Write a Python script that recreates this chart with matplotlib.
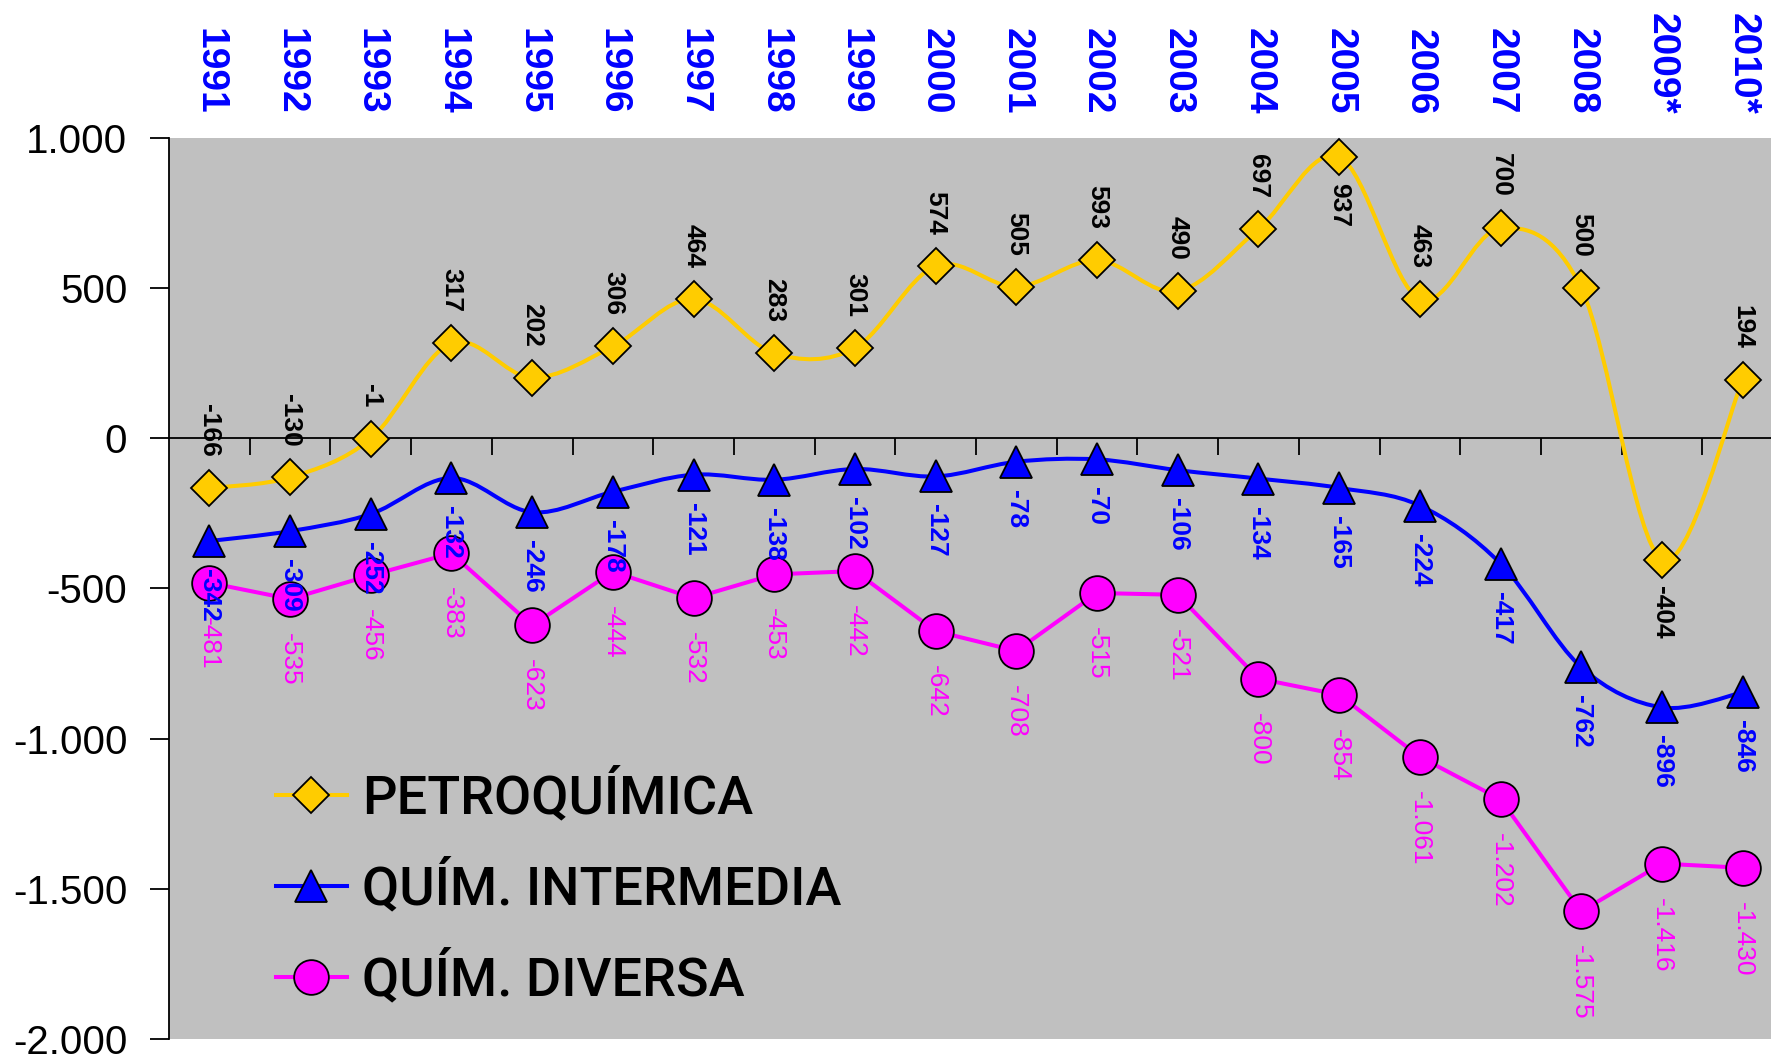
import matplotlib
matplotlib.use("Agg")
import matplotlib.pyplot as plt
from matplotlib.path import Path
from matplotlib.patches import PathPatch
from matplotlib.lines import Line2D
from matplotlib import font_manager as fm
import numpy as np
import os

years = ["1991", "1992", "1993", "1994", "1995", "1996", "1997", "1998", "1999", "2000",
         "2001", "2002", "2003", "2004", "2005", "2006", "2007", "2008", "2009*", "2010*"]
petroquimica = [-166, -130, -1, 317, 202, 306, 464, 283, 301, 574,
                505, 593, 490, 697, 937, 463, 700, 500, -404, 194]
quim_intermedia = [-342, -309, -252, -132, -246, -178, -121, -138, -102, -127,
                   -78, -70, -106, -134, -165, -224, -417, -762, -896, -846]
quim_diversa = [-481, -535, -456, -383, -623, -444, -532, -453, -442, -642,
                -708, -515, -521, -800, -854, -1061, -1202, -1575, -1416, -1430]
series_names = ["PETROQUÍMICA", "QUÍM. INTERMEDIA", "QUÍM. DIVERSA"]
yticks = [1000, 500, 0, -500, -1000, -1500, -2000]

GOLD = "#FFCC00"
BLUE = "#0000FF"
MAG = "#FF00FF"
GRAY = "#C0C0C0"

plt.rcParams['font.family'] = ['Liberation Sans', 'DejaVu Sans']

_files = fm.findSystemFonts()


def _find(name):
    for f in _files:
        if os.path.basename(f).lower() == name.lower():
            return f
    return None


_bold = _find("LiberationSans-Bold.ttf")
_reg = _find("LiberationSans-Regular.ttf")


def fp_bold(size):
    if _bold:
        return fm.FontProperties(fname=_bold, size=size)
    return fm.FontProperties(family='Liberation Sans', weight='bold', size=size)


def fp_reg(size):
    if _reg:
        return fm.FontProperties(fname=_reg, size=size)
    return fm.FontProperties(family='Liberation Sans', size=size)


leg_prop = fm.FontProperties(family=['Roboto', 'DejaVu Sans'], weight='medium', size=39)

W, H = 1771, 1055
fig = plt.figure(figsize=(W / 100, H / 100), dpi=100)
ax = fig.add_axes([169 / W, 16 / H, (1783 - 169) / W, (1039 - 138) / H])
ax.set_facecolor(GRAY)

x = np.arange(len(years))


def fmt(v):
    return f"{v:,}".replace(",", ".")


def smooth_path(xs, ys):
    pts = np.column_stack([xs, ys]).astype(float)
    n = len(pts)
    verts = [tuple(pts[0])]
    codes = [Path.MOVETO]
    for i in range(n - 1):
        p0 = pts[i - 1] if i > 0 else pts[i]
        p1 = pts[i]
        p2 = pts[i + 1]
        p3 = pts[i + 2] if i + 2 < n else pts[i + 1]
        c1 = p1 + (p2 - p0) / 6.0
        c2 = p2 - (p3 - p1) / 6.0
        verts += [tuple(c1), tuple(c2), tuple(p2)]
        codes += [Path.CURVE4, Path.CURVE4, Path.CURVE4]
    return Path(verts, codes)


LW = 2.9
MS_D, MS_T, MS_O = 18, 23, 25
for ys, col in [(petroquimica, GOLD), (quim_intermedia, BLUE)]:
    patch = PathPatch(smooth_path(x, ys), facecolor='none', edgecolor=col, lw=LW,
                      zorder=3, capstyle='round', joinstyle='round')
    ax.add_patch(patch)
ax.plot(x, quim_diversa, color=MAG, lw=LW, zorder=3)

ax.plot(x, petroquimica, linestyle='none', marker='D', ms=MS_D, mfc=GOLD, mec='black',
        mew=1.3, zorder=5, clip_on=False)
ax.plot(x, quim_intermedia, linestyle='none', marker='^', ms=MS_T, mfc=BLUE, mec='black',
        mew=1.3, zorder=5, clip_on=False)
ax.plot(x, quim_diversa, linestyle='none', marker='o', ms=MS_O, mfc=MAG, mec='black',
        mew=1.3, zorder=5, clip_on=False)

# data labels
for i, v in enumerate(petroquimica):
    below = (v == max(petroquimica)) or (v == min(petroquimica))
    if below:
        ax.annotate(fmt(v), (x[i], v), xytext=(0, -26), textcoords='offset pixels',
                    rotation=-90, ha='center', va='top', fontproperties=fp_bold(19),
                    color='black', zorder=8)
    else:
        ax.annotate(fmt(v), (x[i], v), xytext=(0, 31), textcoords='offset pixels',
                    rotation=-90, ha='center', va='bottom', fontproperties=fp_bold(19),
                    color='black', zorder=8)
for i, v in enumerate(quim_intermedia):
    ax.annotate(fmt(v), (x[i], v), xytext=(0, -28), textcoords='offset pixels',
                rotation=-90, ha='center', va='top', fontproperties=fp_bold(19),
                color=BLUE, zorder=8)
for i, v in enumerate(quim_diversa):
    ax.annotate(fmt(v), (x[i], v), xytext=(0, -34), textcoords='offset pixels',
                rotation=-90, ha='center', va='top', fontproperties=fp_reg(19),
                color=MAG, zorder=8)

# axes
ax.set_xlim(-0.5, len(years) - 0.5)
ax.set_ylim(-2000, 1000)
ax.set_yticks(yticks)
ax.set_yticklabels([fmt(t) for t in yticks])
for lab in ax.get_yticklabels():
    lab.set_fontproperties(fp_reg(29))
ax.tick_params(axis='y', direction='out', length=14, width=1.3, pad=16, color='black')
ax.set_xticks(x[:-1] + 0.5)
ax.set_xticklabels([])
ax.tick_params(axis='x', direction='out', length=12, width=1.3, color='black')
for s in ['top', 'right']:
    ax.spines[s].set_visible(False)
ax.spines['bottom'].set_position(('data', 0))
ax.spines['bottom'].set_linewidth(1.3)
ax.spines['bottom'].set_zorder(2)
ax.spines['left'].set_linewidth(1.3)

# year labels on top
for i, yl in enumerate(years):
    ax.text(x[i], 1.0 + 23 / (1039 - 138), yl, transform=ax.get_xaxis_transform(),
            rotation=-90, ha='center', va='bottom', fontproperties=fp_bold(28),
            color=BLUE, clip_on=False)

# legend
handles = [
    Line2D([], [], color=GOLD, lw=LW, marker='D', ms=MS_D, mfc=GOLD, mec='black', mew=1.3),
    Line2D([], [], color=BLUE, lw=LW, marker='^', ms=MS_T, mfc=BLUE, mec='black', mew=1.3),
    Line2D([], [], color=MAG, lw=LW, marker='o', ms=MS_O, mfc=MAG, mec='black', mew=1.3),
]
leg = fig.legend(handles, series_names, loc='upper left',
                 bbox_to_anchor=(276 / W, (H - 769) / H), frameon=False,
                 prop=leg_prop, handlelength=1.31,
                 handletextpad=0.28, labelspacing=0.655, borderpad=0, borderaxespad=0)

fig.savefig("out.png", dpi=100, facecolor='white')
